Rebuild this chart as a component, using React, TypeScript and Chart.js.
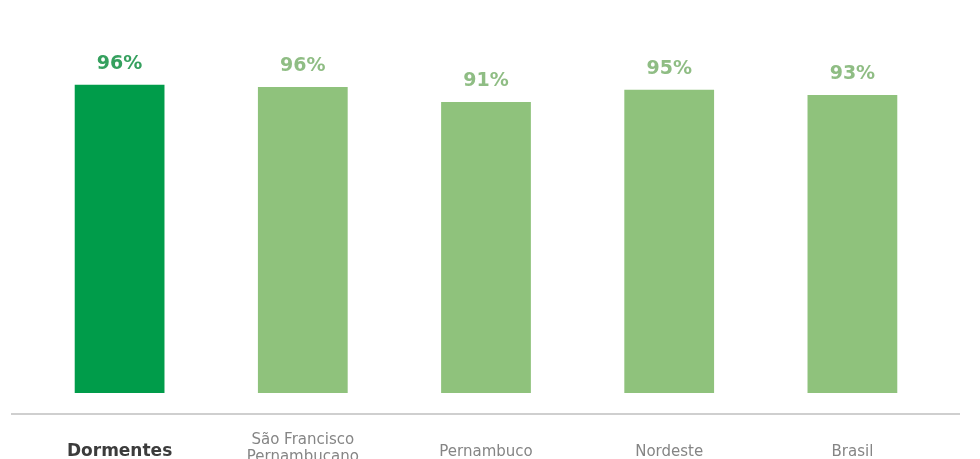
import React, { useEffect, useRef } from "react";
import { Chart, registerables } from "chart.js";

Chart.register(...registerables);

const categories: string[][] = [
  ["Dormentes"],
  ["São Francisco", "Pernambucano"],
  ["Pernambuco"],
  ["Nordeste"],
  ["Brasil"],
];
const values: number[] = [96.3, 95.6, 90.9, 94.8, 93.1];
const valueLabels: string[] = ["96%", "96%", "91%", "95%", "93%"];
const highlightIndex = 0;

const barColors = values.map((_, i) => (i === highlightIndex ? "#009c4a" : "#8fc27c"));
const valueLabelColors = values.map((_, i) => (i === highlightIndex ? "#35a05e" : "#8fbd84"));

const FONT = "'DejaVu Sans', Lato, sans-serif";

const overlayPlugin = {
  id: "overlay",
  afterDatasetsDraw(chart: any) {
    const ctx = chart.ctx;
    const xScale = chart.scales.x;
    const yScale = chart.scales.y;
    const meta = chart.getDatasetMeta(0);
    ctx.save();
    // value labels
    ctx.textAlign = "center";
    ctx.textBaseline = "alphabetic";
    meta.data.forEach((bar: any, i: number) => {
      ctx.font = `bold 19px ${FONT}`;
      ctx.fillStyle = valueLabelColors[i];
      ctx.fillText(valueLabels[i], bar.x, bar.y - 16);
    });
    // axis line
    const lineY = yScale.getPixelForValue(0) + 21;
    ctx.strokeStyle = "#cfcfcf";
    ctx.lineWidth = 2;
    ctx.beginPath();
    ctx.moveTo(11, lineY);
    ctx.lineTo(960, lineY);
    ctx.stroke();
    // category labels
    categories.forEach((lines, i) => {
      const x = xScale.getPixelForValue(i);
      const bold = i === highlightIndex;
      ctx.font = bold ? `bold 17px ${FONT}` : `15px ${FONT}`;
      ctx.fillStyle = bold ? "#3c3c3c" : "#858585";
      ctx.textBaseline = "middle";
      if (lines.length === 1) {
        ctx.fillText(lines[0], x, lineY + 38);
      } else {
        lines.forEach((l, j) => {
          ctx.fillText(l, x, lineY + 26 + j * 17);
        });
      }
    });
    ctx.restore();
  },
};

export default function App() {
  const canvasRef = useRef<HTMLCanvasElement | null>(null);

  useEffect(() => {
    document.body.style.margin = "0";
    document.body.style.background = "#ffffff";
    const canvas = canvasRef.current;
    if (!canvas) return;
    const chart = new Chart(canvas, {
      type: "bar",
      data: {
        labels: categories.map((c) => c.join(" ")),
        datasets: [
          {
            data: values,
            backgroundColor: barColors,
            borderWidth: 0,
            categoryPercentage: 0.98,
            barPercentage: 0.5,
          },
        ],
      },
      options: {
        animation: false,
        responsive: false,
        maintainAspectRatio: false,
        layout: { padding: { left: 28, right: 36, top: 73, bottom: 66 } },
        plugins: {
          legend: { display: false },
          tooltip: { enabled: false },
          title: { display: false },
        },
        scales: {
          x: {
            display: false,
            grid: { display: false },
          },
          y: {
            display: false,
            min: 0,
            max: 100,
            grid: { display: false },
          },
        },
      },
      plugins: [overlayPlugin],
    });
    return () => chart.destroy();
  }, []);

  return (
    <div style={{ width: 980, height: 459, background: "#fff" }}>
      <canvas ref={canvasRef} width={980} height={459} style={{ display: "block" }} />
    </div>
  );
}
